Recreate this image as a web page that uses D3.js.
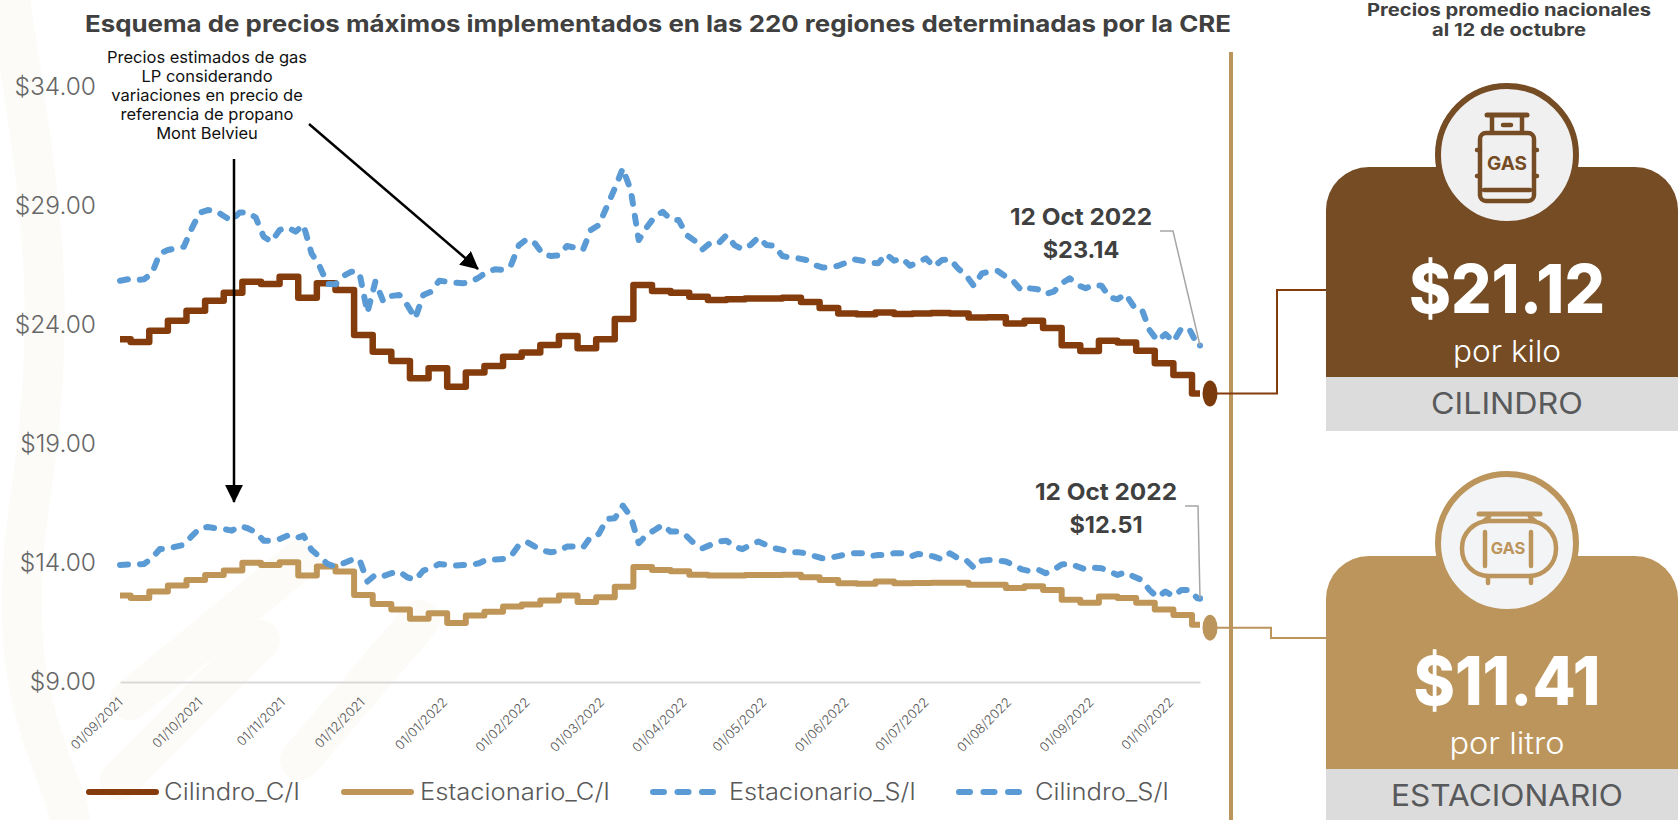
<!DOCTYPE html>
<html lang="es">
<head>
<meta charset="utf-8">
<title>Precios máximos gas LP</title>
<script src="https://cdn.jsdelivr.net/npm/d3@7"></script>
<style>
  html, body { margin: 0; background: #fff; overflow: hidden; }
  svg { display: block; font-family: Inter, "Open Sans", sans-serif; }
</style>
</head>
<body>
<svg id="chart"></svg>
<script>
const parseDate = d3.timeParse("%Y-%m-%d");
const startDate = parseDate("2021-09-01");
const endDate = parseDate("2022-10-12");

const yTicks = [9, 14, 19, 24, 29, 34];
const monthTicks = ["2021-09-01", "2021-10-01", "2021-11-01", "2021-12-01", "2022-01-01", "2022-02-01", "2022-03-01",
  "2022-04-01", "2022-05-01", "2022-06-01", "2022-07-01", "2022-08-01", "2022-09-01", "2022-10-01"];

// prices with IVA change every sunday, first value is the 1st of september
const cilindroCI = [23.40, 23.29, 23.76, 24.18, 24.60, 25.02, 25.36, 25.82, 25.72, 26.03, 25.15, 25.75, 25.47, 23.58, 22.88,
  22.49, 21.76, 22.18, 21.41, 22.00, 22.28, 22.67, 22.84, 23.16, 23.54, 23.02, 23.40, 24.25, 25.68, 25.43, 25.36, 25.19,
  25.05, 25.08, 25.11, 25.11, 25.15, 24.97, 24.71, 24.48, 24.45, 24.53, 24.46, 24.48, 24.50, 24.48, 24.32, 24.33, 24.06,
  24.18, 23.87, 23.15, 22.91, 23.34, 23.26, 22.92, 22.39, 21.90, 21.12];
const estacionarioCI = [12.63, 12.53, 12.80, 13.05, 13.29, 13.50, 13.69, 14.01, 13.92, 14.03, 13.47, 13.85, 13.64, 12.66, 12.28,
  12.05, 11.66, 11.89, 11.48, 11.79, 11.95, 12.17, 12.26, 12.42, 12.63, 12.36, 12.56, 13.00, 13.83, 13.71, 13.65, 13.51,
  13.47, 13.47, 13.50, 13.50, 13.51, 13.40, 13.29, 13.15, 13.13, 13.22, 13.15, 13.16, 13.17, 13.17, 13.09, 13.09, 12.95,
  13.02, 12.87, 12.46, 12.33, 12.59, 12.53, 12.33, 12.05, 11.82, 11.41];

// estimates, read every third day
const cilindroSI = [25.86, 25.92, 25.89, 25.92, 26.17, 27.01, 27.15, 27.22, 27.29, 28.06, 28.72, 28.83, 28.80, 28.58, 28.38, 28.73,
  28.73, 28.52, 27.71, 27.50, 27.99, 28.10, 27.92, 28.20, 27.01, 26.48, 25.72, 25.71, 26.06, 26.24, 26.20, 24.52, 25.82, 24.98,
  25.22, 25.26, 24.84, 24.28, 25.26, 25.40, 25.86, 25.82, 25.78, 25.75, 25.82, 26.00, 26.24, 26.34,
  26.31, 26.52, 27.36, 27.61, 27.43, 26.97, 26.90, 26.93, 27.32, 27.25, 27.15, 27.99, 28.20, 28.97, 29.74, 30.58, 29.67, 27.57,
  28.10, 28.55, 28.76, 28.44, 28.41, 27.78, 27.54, 27.18, 27.46, 27.43, 27.78, 27.36, 27.18, 27.36, 27.68, 27.36, 27.33, 26.90,
  26.83, 26.80, 26.73, 26.52, 26.42, 26.42, 26.49, 26.62, 26.76, 26.70,
  26.62, 26.59, 26.98, 26.70, 26.80, 26.49, 26.63, 26.80, 26.45, 26.73, 26.77, 26.38, 26.10, 25.64, 26.17, 26.24, 26.27, 26.03,
  25.82, 25.44, 25.54, 25.50, 25.30, 25.40, 25.75, 25.96, 25.68, 25.54, 25.68, 25.65, 25.16, 25.08, 25.30, 24.80, 24.70, 23.79,
  23.34, 23.62, 23.30, 23.86, 23.83, 23.16, 23.14];
const estacionarioSI = [13.92, 13.94, 13.94, 13.96, 14.20, 14.59, 14.60, 14.69, 14.76, 15.13, 15.46, 15.51, 15.46, 15.43, 15.36, 15.55,
  15.46, 15.29, 14.94, 14.94, 15.01, 15.15, 15.04, 15.15, 14.55, 14.27, 13.96, 13.85, 13.99, 14.13, 14.15, 13.22, 13.50, 13.45,
  13.57, 13.64, 13.40, 13.29, 13.68, 13.78, 13.96, 13.92, 13.89, 13.92, 13.92, 13.99, 14.15, 14.15,
  14.17, 14.29, 14.76, 14.88, 14.69, 14.52, 14.45, 14.50, 14.69, 14.69, 14.64, 15.11, 15.22, 15.85, 15.88, 16.41, 15.95, 14.83,
  15.18, 15.39, 15.60, 15.32, 15.32, 15.13, 14.80, 14.62, 14.76, 14.90, 14.94, 14.69, 14.58, 14.76, 14.90, 14.76, 14.62, 14.55,
  14.45, 14.45, 14.41, 14.29, 14.20, 14.22, 14.29, 14.36, 14.41, 14.41,
  14.29, 14.34, 14.34, 14.41, 14.41, 14.27, 14.38, 14.35, 14.27, 14.15, 14.41, 14.20, 14.13, 13.80, 14.10, 14.13, 14.10, 14.06,
  13.92, 13.73, 13.66, 13.73, 13.57, 13.71, 13.94, 13.96, 13.85, 13.73, 13.80, 13.78, 13.64, 13.50, 13.61, 13.43, 13.29, 12.87,
  12.56, 12.80, 12.61, 12.87, 12.87, 12.52, 12.51];

const legendItems = [
  {label: "Cilindro_C/I", color: "#843c0c", dash: null, x1: 89, x2: 156, tx: 164, tw: 136},
  {label: "Estacionario_C/I", color: "#bf9658", dash: null, x1: 344, x2: 411, tx: 420, tw: 190},
  {label: "Estacionario_S/I", color: "#5b9bd5", dash: "11 13.5", x1: 653, x2: 713, tx: 729, tw: 187},
  {label: "Cilindro_S/I", color: "#5b9bd5", dash: "11 13.5", x1: 959, x2: 1020, tx: 1035, tw: 134}
];

const annotationLines = ["Precios estimados de gas", "LP considerando", "variaciones en precio de", "referencia de propano", "Mont Belvieu"];

const width = 1678;
const height = 820;
const brown = "#754c24";
const tan = "#bc955c";
const textDark = "#404040";

const svg = d3.select("#chart").attr("width", width).attr("height", height);

// stretches a label to the width it has in the reference, montserrat is wider than what we have here
function fit(sel, w) {
  return sel.attr("textLength", w).attr("lengthAdjust", "spacingAndGlyphs");
}

// faint watermark behind the plot
const wm = svg.append("g").attr("fill", "none").attr("stroke", "#fcfbf8").attr("stroke-linecap", "round");
[
  "M10,0 C40,200 60,300 30,500 S60,760 70,820",
  "M300,560 L130,700",
  "M260,640 L120,780",
  "M420,620 L300,760"
].forEach(d => wm.append("path").attr("d", d).attr("stroke-width", 40));

const x = d3.scaleTime().domain([startDate, endDate]).range([120, 1200]);
const y = d3.scaleLinear().domain([9, 34]).range([682, 87]);

const stepDates = [startDate].concat(d3.timeSunday.range(parseDate("2021-09-05"), parseDate("2022-10-10")));
const estimateDates = d3.timeDay.range(startDate, endDate, 3).concat([endDate]);

// y tick labels
svg.append("g").selectAll("text")
  .data(yTicks)
  .enter()
  .append("text")
  .attr("x", 96)
  .attr("y", d => y(d) + 8)
  .attr("text-anchor", "end")
  .attr("font-size", 24.5)
  .attr("font-weight", 300)
  .attr("fill", "#666")
  .text(d => "$" + d.toFixed(2));

// x axis
const xAxis = d3.axisBottom(x)
  .tickValues(monthTicks.map(parseDate))
  .tickFormat(d3.timeFormat("%d/%m/%Y"))
  .tickSize(0);
const axisG = svg.append("g").attr("transform", "translate(0,682)").call(xAxis);
axisG.select(".domain").attr("stroke", "#d9d9d9").attr("stroke-width", 2);
axisG.selectAll("text")
  .attr("font-family", "Inter, sans-serif")
  .attr("font-size", 13)
  .attr("font-weight", 300)
  .attr("fill", "#555")
  .attr("text-anchor", "end")
  .attr("dy", 0)
  .attr("transform", "translate(1,19) rotate(-45)");

function drawLine(values, dates, color, w, curve, dash) {
  const line = d3.line()
    .x((d, i) => x(dates[i]))
    .y(d => y(d))
    .curve(curve);
  const p = svg.append("path")
    .datum(values)
    .attr("d", line)
    .attr("fill", "none")
    .attr("stroke", color)
    .attr("stroke-width", w)
    .attr("stroke-linejoin", "round");
  if (dash) p.attr("stroke-dasharray", dash).attr("stroke-linecap", "round");
}

// the stepped lines run on to the 12th of october
const stepDatesEnd = stepDates.concat([endDate]);
drawLine(cilindroCI.concat(cilindroCI[cilindroCI.length - 1]), stepDatesEnd, "#843c0c", 6.5, d3.curveStepAfter);
drawLine(estacionarioCI.concat(estacionarioCI[estacionarioCI.length - 1]), stepDatesEnd, "#bf9658", 6, d3.curveStepAfter);
drawLine(cilindroSI, estimateDates, "#5b9bd5", 6, d3.curveLinear, "8 12");
drawLine(estacionarioSI, estimateDates, "#5b9bd5", 6, d3.curveLinear, "8 12");

// the dash pattern can stop short of the last day, so mark it
svg.append("g").selectAll("circle")
  .data([cilindroSI, estacionarioSI])
  .enter()
  .append("circle")
  .attr("cx", x(endDate))
  .attr("cy", d => y(d[d.length - 1]))
  .attr("r", 3)
  .attr("fill", "#5b9bd5");

// vertical divider
svg.append("line").attr("x1", 1231).attr("x2", 1231).attr("y1", 52).attr("y2", height)
  .attr("stroke", tan).attr("stroke-width", 4);

// connectors from the last price to the panels
const lastCil = y(cilindroCI[cilindroCI.length - 1]);
const lastEst = y(estacionarioCI[estacionarioCI.length - 1]) + 3;
svg.append("path").attr("d", `M1210,${lastCil}H1277V290H1326`)
  .attr("fill", "none").attr("stroke", "#843c0c").attr("stroke-width", 2);
svg.append("path").attr("d", `M1210,${lastEst}H1271V638H1326`)
  .attr("fill", "none").attr("stroke", tan).attr("stroke-width", 2);
svg.append("ellipse").attr("cx", 1210).attr("cy", lastCil).attr("rx", 7.5).attr("ry", 13).attr("fill", "#7a3a0c");
svg.append("ellipse").attr("cx", 1210).attr("cy", lastEst).attr("rx", 7.5).attr("ry", 13).attr("fill", tan);

// callouts for the last estimate
function callout(cx, y1, y2, value, lx, ly) {
  fit(svg.append("text").attr("x", cx).attr("y", y1).attr("text-anchor", "middle")
    .attr("font-size", 23.5).attr("font-weight", 700).attr("fill", textDark).text("12 Oct 2022"), 142);
  svg.append("text").attr("x", cx).attr("y", y2).attr("text-anchor", "middle")
    .attr("font-size", 23.5).attr("font-weight", 700).attr("fill", textDark).text("$" + value.toFixed(2));
  svg.append("path").attr("d", `M${lx},${ly}H${lx + 13}L${x(endDate)},${y(value)}`)
    .attr("fill", "none").attr("stroke", "#a6a6a6").attr("stroke-width", 1.5);
}
callout(1081, 225, 258, 23.14, 1160, 231);
callout(1106, 500, 533, 12.51, 1185, 506);

// note and arrows
svg.append("defs").append("marker")
  .attr("id", "head").attr("viewBox", "0 0 10 10").attr("refX", 9.5).attr("refY", 5)
  .attr("markerUnits", "userSpaceOnUse").attr("markerWidth", 18).attr("markerHeight", 18).attr("orient", "auto")
  .append("path").attr("d", "M0,0L10,5L0,10Z").attr("fill", "#000");

svg.append("g").selectAll("text")
  .data(annotationLines)
  .enter()
  .append("text")
  .attr("x", 207)
  .attr("y", (d, i) => 63 + i * 19)
  .attr("text-anchor", "middle")
  .attr("font-size", 16.5)
  .attr("fill", "#111")
  .text(d => d);
svg.append("line").attr("x1", 234).attr("y1", 159).attr("x2", 234).attr("y2", 502)
  .attr("stroke", "#000").attr("stroke-width", 2.5).attr("marker-end", "url(#head)");
svg.append("line").attr("x1", 309).attr("y1", 124).attr("x2", 478).attr("y2", 269)
  .attr("stroke", "#000").attr("stroke-width", 2.5).attr("marker-end", "url(#head)");

// titles
fit(svg.append("text").attr("x", 85).attr("y", 32).attr("font-size", 23).attr("font-weight", 700).attr("fill", textDark)
  .text("Esquema de precios máximos implementados en las 220 regiones determinadas por la CRE"), 1146);
fit(svg.append("text").attr("x", 1509).attr("y", 16).attr("text-anchor", "middle").attr("font-size", 17)
  .attr("font-weight", 700).attr("fill", textDark).text("Precios promedio nacionales"), 284);
fit(svg.append("text").attr("x", 1509).attr("y", 36).attr("text-anchor", "middle").attr("font-size", 17)
  .attr("font-weight", 700).attr("fill", textDark).text("al 12 de octubre"), 154);

// legend
const legend = svg.append("g");
legendItems.forEach(item => {
  const l = legend.append("line").attr("x1", item.x1).attr("x2", item.x2).attr("y1", 792).attr("y2", 792)
    .attr("stroke", item.color).attr("stroke-width", 6).attr("stroke-linecap", "round");
  if (item.dash) l.attr("stroke-dasharray", item.dash);
  fit(legend.append("text").attr("x", item.tx).attr("y", 800).attr("font-size", 23.5).attr("font-weight", 300)
    .attr("fill", "#595959").text(item.label), item.tw);
});

// right hand panels
function panel(top, split, bottom, color, price, priceW, unit, unitW, name, nameW, circleY, circleFill) {
  const g = svg.append("g");
  const r = 43;
  g.append("rect").attr("x", 1326).attr("y", split).attr("width", width - 1326).attr("height", bottom - split).attr("fill", "#dcdcdc");
  g.append("path")
    .attr("d", `M1326,${split}V${top + r}A${r},${r} 0 0 1 ${1326 + r},${top}H${width - r}A${r},${r} 0 0 1 ${width},${top + r}V${split}Z`)
    .attr("fill", color);
  g.append("circle").attr("cx", 1507).attr("cy", circleY).attr("r", 69).attr("fill", circleFill).attr("stroke", color).attr("stroke-width", 6);
  fit(g.append("text").attr("x", 1507).attr("y", split - 64).attr("text-anchor", "middle").attr("font-size", 68).attr("font-weight", 800)
    .attr("fill", "#fff").text(price), priceW);
  fit(g.append("text").attr("x", 1507).attr("y", split - 15).attr("text-anchor", "middle").attr("font-size", 30).attr("font-weight", 300)
    .attr("fill", "#fff").text(unit), unitW);
  fit(g.append("text").attr("x", 1507).attr("y", split + 37).attr("text-anchor", "middle").attr("font-size", 30).attr("font-weight", 400)
    .attr("fill", "#58595b").text(name), nameW);
}
panel(167, 377, 431, brown, "$21.12", 196, "por kilo", 108, "CILINDRO", 152, 155, "#f0f0f0");
panel(556, 769, 820, tan, "$11.41", 187, "por litro", 115, "ESTACIONARIO", 232, 543, "#f3f4f6");

// cylinder icon
const cyl = svg.append("g").attr("fill", "none").attr("stroke", brown).attr("stroke-width", 4.5).attr("stroke-linecap", "round").attr("stroke-linejoin", "round");
cyl.append("line").attr("x1", 1487).attr("x2", 1527).attr("y1", 115).attr("y2", 115).attr("stroke-width", 5);
cyl.append("path").attr("d", "M1492,116V132M1522,116V132M1503,125H1511");
cyl.append("rect").attr("x", 1480).attr("y", 133).attr("width", 54).attr("height", 68).attr("rx", 6);
cyl.append("path").attr("d", "M1484,190H1530M1477,150H1480M1534,150H1537M1477,176H1480M1534,176H1537");
svg.append("text").attr("x", 1507).attr("y", 170).attr("text-anchor", "middle").attr("font-size", 19).attr("font-weight", 700).attr("fill", brown).text("GAS");

// tank icon
const tank = svg.append("g").attr("fill", "none").attr("stroke", tan).attr("stroke-width", 4.5).attr("stroke-linecap", "round").attr("stroke-linejoin", "round");
tank.append("line").attr("x1", 1479).attr("x2", 1540).attr("y1", 514).attr("y2", 514).attr("stroke-width", 5);
tank.append("path").attr("d", "M1489,517L1484,521M1530,517L1535,521");
tank.append("rect").attr("x", 1462).attr("y", 521).attr("width", 94).attr("height", 55).attr("rx", 27);
tank.append("path").attr("d", "M1485,532V566M1531,532V566M1488,578V583M1531,578V583");
svg.append("text").attr("x", 1508).attr("y", 554).attr("text-anchor", "middle").attr("font-size", 16.5).attr("font-weight", 700).attr("fill", tan).text("GAS");
</script>
</body>
</html>
